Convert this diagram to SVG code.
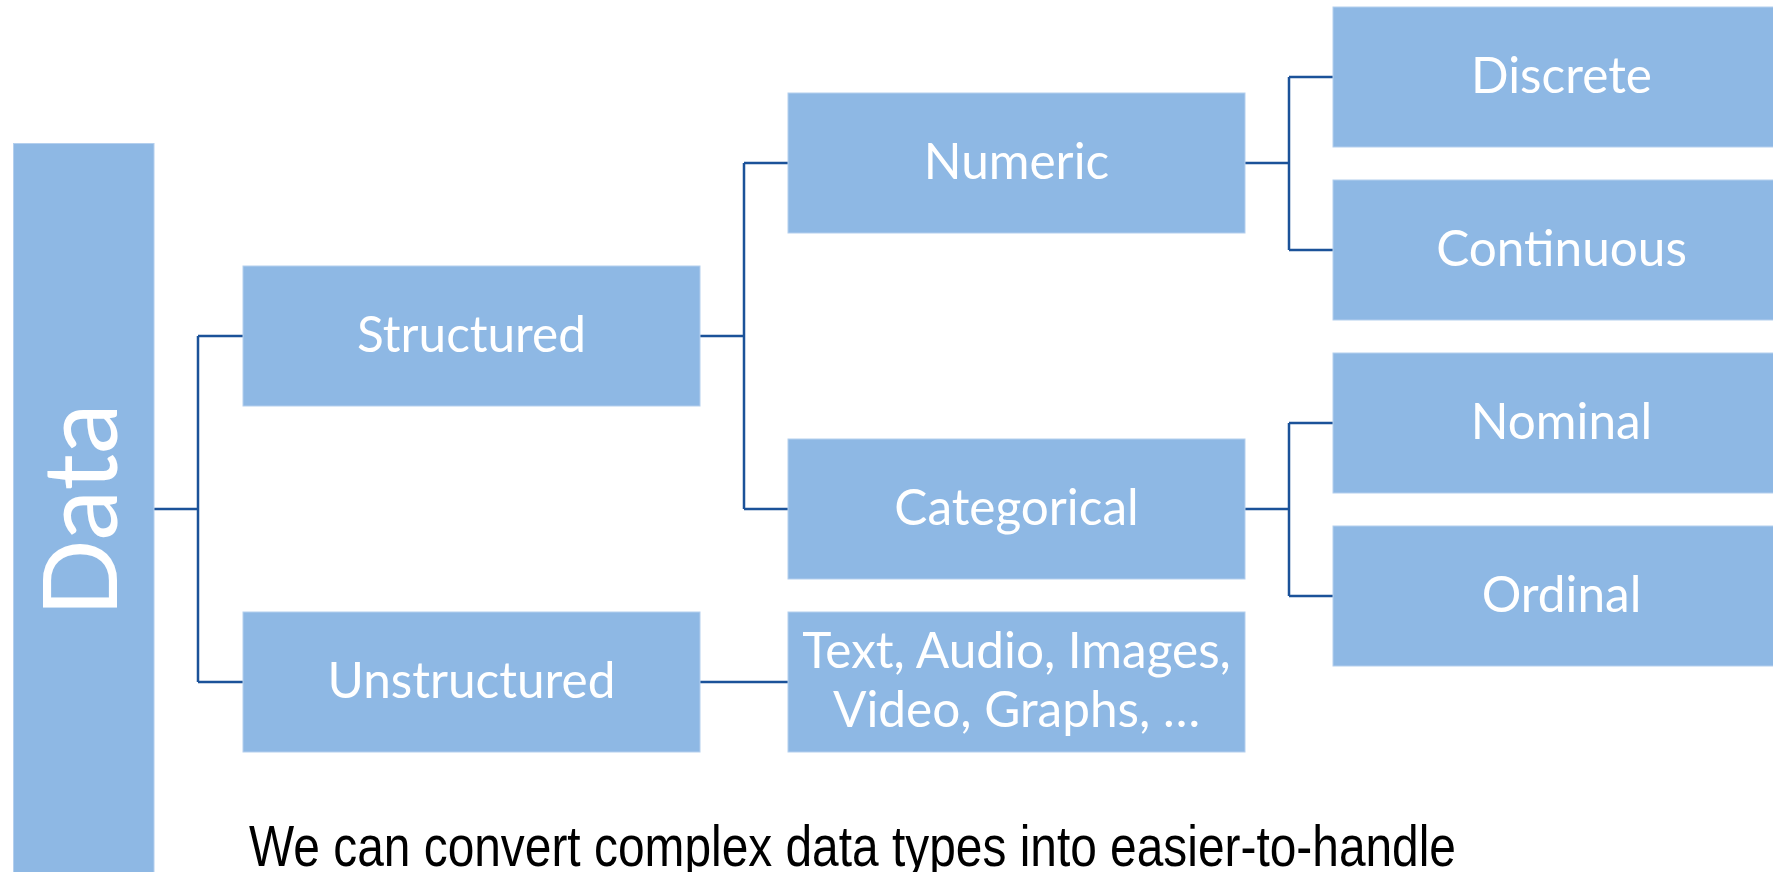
<svg xmlns="http://www.w3.org/2000/svg" width="1773" height="872" viewBox="0 0 1773 872">
  <style>
    .box { fill: #8EB8E4; stroke: #B4CFEE; stroke-width: 1; }
    .lbl { fill: #FFFFFF; font-family: Lato, "Open Sans", sans-serif; font-size: 49.5px; text-anchor: middle; }
    .big { font-size: 102px; }
    .link { fill: none; stroke: #1B5299; stroke-width: 2.5; }
    .note { fill: #000000; font-family: "Liberation Sans", Arial, sans-serif; font-size: 58px; }
  </style>
  <rect width="1773" height="872" fill="#FFFFFF"/>

  <!-- connectors -->
  <g id="connectors">
    <path class="link" d="M154 509 H198 M198 336 V682 M198 336 H243 M198 682 H243"/>
    <path class="link" d="M700 336 H744 M744 163 V509 M744 163 H788 M744 509 H788"/>
    <path class="link" d="M700 682 H788"/>
    <path class="link" d="M1245 163 H1289 M1289 77 V250 M1289 77 H1333 M1289 250 H1333"/>
    <path class="link" d="M1245 509 H1289 M1289 423 V596 M1289 423 H1333 M1289 596 H1333"/>
  </g>

  <!-- root -->
  <g id="node-data">
    <rect class="box" x="13.5" y="143.5" width="140.5" height="740"/>
    <text class="lbl big" transform="translate(117 510) rotate(-90)">Data</text>
  </g>

  <!-- level 1 -->
  <g id="node-structured">
    <rect class="box" x="243" y="266" width="457" height="140"/>
    <text class="lbl" x="471.5" y="352">Structured</text>
  </g>
  <g id="node-unstructured">
    <rect class="box" x="243" y="612" width="457" height="140"/>
    <text class="lbl" x="471.5" y="698">Unstructured</text>
  </g>

  <!-- level 2 -->
  <g id="node-numeric">
    <rect class="box" x="788" y="93" width="457" height="140"/>
    <text class="lbl" x="1016.5" y="179">Numeric</text>
  </g>
  <g id="node-categorical">
    <rect class="box" x="788" y="439" width="457" height="140"/>
    <text class="lbl" x="1016.5" y="525">Categorical</text>
  </g>
  <g id="node-media">
    <rect class="box" x="788" y="612" width="457" height="140"/>
    <text class="lbl" x="1016.5" y="668">Text, Audio, Images,</text>
    <text class="lbl" x="1016.5" y="727">Video, Graphs, …</text>
  </g>

  <!-- level 3 -->
  <g id="node-discrete">
    <rect class="box" x="1333" y="7" width="457" height="140"/>
    <text class="lbl" x="1561.5" y="93">Discrete</text>
  </g>
  <g id="node-continuous">
    <rect class="box" x="1333" y="180" width="457" height="140"/>
    <text class="lbl" x="1561.5" y="266">Continuous</text>
  </g>
  <g id="node-nominal">
    <rect class="box" x="1333" y="353" width="457" height="140"/>
    <text class="lbl" x="1561.5" y="439">Nominal</text>
  </g>
  <g id="node-ordinal">
    <rect class="box" x="1333" y="526" width="457" height="140"/>
    <text class="lbl" x="1561.5" y="612">Ordinal</text>
  </g>

  <!-- caption -->
  <text class="note" x="249" y="866" textLength="1207" lengthAdjust="spacingAndGlyphs">We can convert complex data types into easier-to-handle</text>
</svg>
